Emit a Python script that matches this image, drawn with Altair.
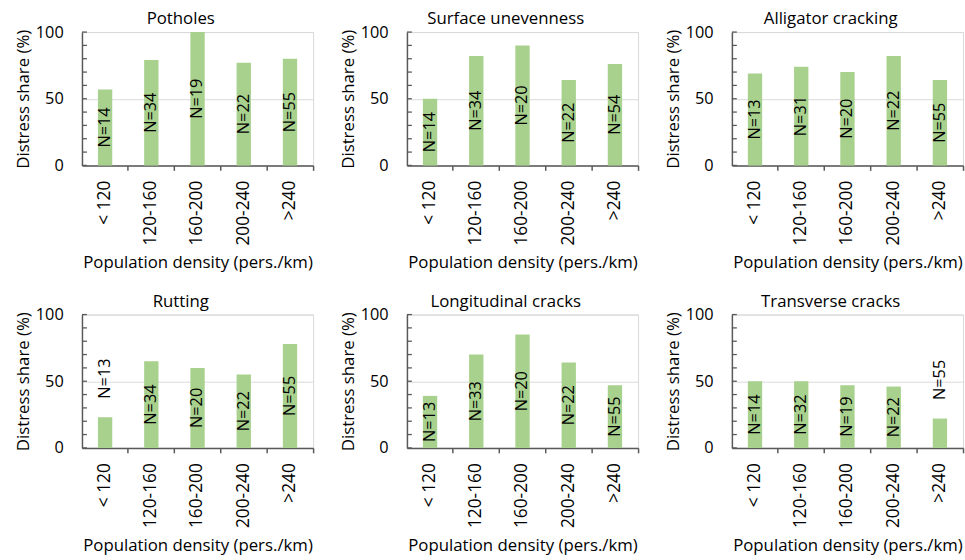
import altair as alt
import pandas as pd

# Population density classes (pers./km) on the x axis
density_classes = ["< 120", "120-160", "160-200", "200-240", ">240"]

# Share of road sections with each distress (%) and number of sections per class
potholes = [57, 79, 100, 77, 80]
potholes_n = [14, 34, 19, 22, 55]

unevenness = [50, 82, 90, 64, 76]
unevenness_n = [14, 34, 20, 22, 54]

alligator = [69, 74, 70, 82, 64]
alligator_n = [13, 31, 20, 22, 55]

rutting = [23, 65, 60, 55, 78]
rutting_n = [13, 34, 20, 22, 55]

longitudinal = [39, 70, 85, 64, 47]
longitudinal_n = [13, 33, 20, 22, 55]

transverse = [50, 50, 47, 46, 22]
transverse_n = [14, 32, 19, 22, 55]

panel_titles = ["Potholes", "Surface unevenness", "Alligator cracking",
                "Rutting", "Longitudinal cracks", "Transverse cracks"]
panel_shares = [potholes, unevenness, alligator, rutting, longitudinal, transverse]
panel_counts = [potholes_n, unevenness_n, alligator_n, rutting_n, longitudinal_n, transverse_n]

y_ticks = list(range(0, 101, 10))

FONT = "Open Sans"
BAR = "#a9d18e"
AXIS_DARK = "#595959"
LIGHT = "#d9d9d9"

x_axis = alt.Axis(
    title="Population density (pers./km)",
    labelAngle=270,
    labelFontSize=17.5,
    bandPosition=1,
    tickSize=5,
    labelPadding=10,
    titlePadding=10,
    grid=False,
)
y_axis = alt.Axis(
    title="Distress share (%)",
    values=[0, 50, 100],
    labelFontSize=16.5,
    ticks=False,
    labelPadding=19,
    titlePadding=3,
    grid=True,
    gridColor=LIGHT,
)
x_scale = alt.Scale(paddingInner=0, paddingOuter=0)
y_scale = alt.Scale(domain=[0, 100], nice=False)


def panel(title, shares, counts):
    df = pd.DataFrame({
        "density": density_classes,
        "share": shares,
        "label": [f"N={c}" for c in counts],
    })
    x = alt.X("density:N", sort=density_classes, scale=x_scale, axis=x_axis)

    bars = alt.Chart(df).mark_bar(color=BAR, width=alt.RelativeBandSize(0.31)).encode(
        x=x,
        y=alt.Y("share:Q", scale=y_scale, axis=y_axis),
    )

    # sample sizes: centred in the bar, or above it when the bar is too short
    labels = alt.Chart(df).transform_calculate(
        pos="datum.share >= 30 ? datum.share / 2 : datum.share + 29"
    ).mark_text(angle=270, font=FONT, fontSize=16.5, color="black").encode(
        x=x,
        y=alt.Y("pos:Q", scale=y_scale, axis=y_axis),
        text="label:N",
    )

    # inward tick marks every 10 % along the value axis
    ticks = alt.Chart(pd.DataFrame({"t": y_ticks})).mark_rule(
        color=AXIS_DARK, strokeWidth=1.3
    ).encode(
        y=alt.Y("t:Q", scale=y_scale, axis=y_axis),
        x=alt.value(0),
        x2=alt.value(5),
    )

    return alt.layer(bars, ticks, labels).properties(
        width=234,
        height=135,
        title=alt.TitleParams(title, frame="group", anchor="middle", dx=-17, offset=-4,
                              font=FONT, fontSize=17, fontWeight="normal", color="black"),
    )


charts = [panel(t, s, c) for t, s, c in zip(panel_titles, panel_shares, panel_counts)]

chart = alt.vconcat(
    alt.hconcat(*charts[:3], spacing=24),
    alt.hconcat(*charts[3:], spacing=24),
    spacing=20,
).properties(
    padding={"left": 14, "top": 6, "right": 0, "bottom": 0},
    background="white",
).configure_view(
    stroke=LIGHT,
).configure_axis(
    labelFont=FONT,
    titleFont=FONT,
    titleFontSize=17,
    titleFontWeight="normal",
    labelColor="black",
    titleColor="black",
    domainColor=AXIS_DARK,
    domainWidth=1.5,
    tickColor=AXIS_DARK,
    tickWidth=1.5,
)

chart.save("out.html", embed_options={"renderer": "svg", "actions": False})
